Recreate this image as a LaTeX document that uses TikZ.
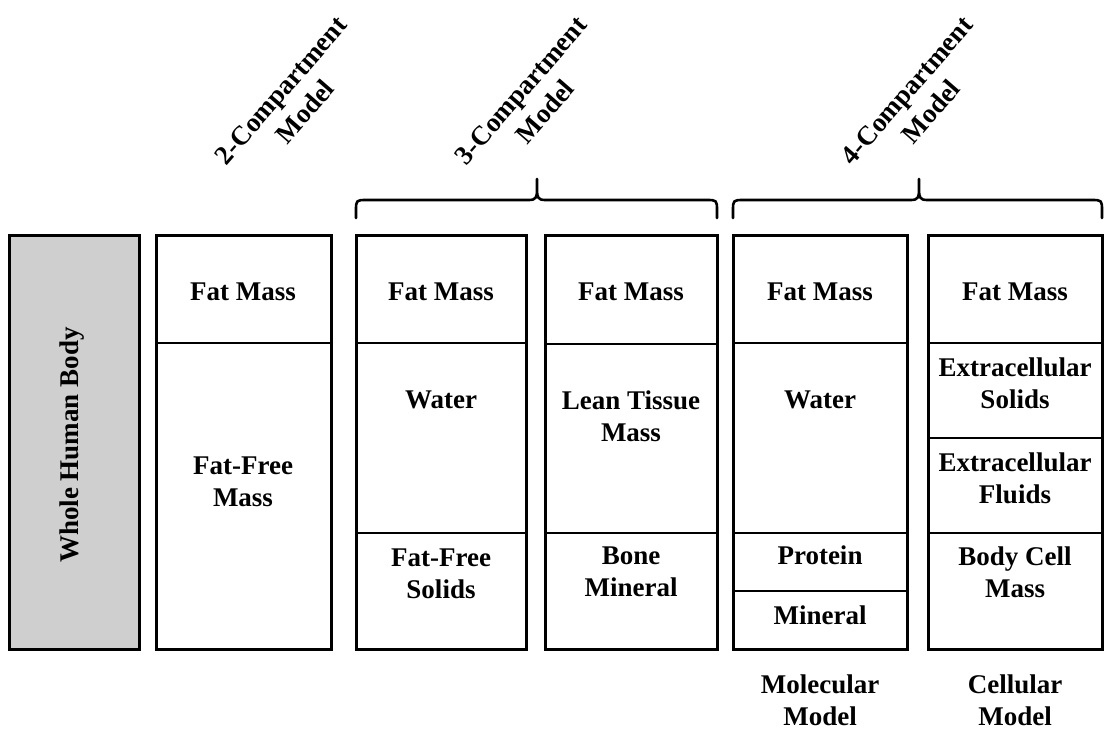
\documentclass[tikz,border=0pt]{standalone}
\usepackage{fontspec}
\setmainfont{Liberation Serif}
\definecolor{bodygray}{RGB}{207,207,207}

\begin{document}
\begin{tikzpicture}[x=1pt, y=-1pt,
        box/.style = {draw, line width=3pt},
        divider/.style = {line width=2.6pt},
        bracket/.style = {line width=2.6pt, line join=round, line cap=round},
        txt/.style = {font=\fontsize{27}{32}\selectfont\bfseries, align=center, inner sep=0pt},
        modellabel/.style = {txt, rotate=49}]
    \useasboundingbox (0,0) rectangle (1105,729);

    % whole body
    \draw[box, fill=bodygray] (9,235) rectangle (139,649);
    \node[txt, rotate=90] (whole) at (72,445) {Whole Human Body};

    % compartment columns
    \foreach \l/\r in {156/331, 356/526, 545/717, 733/907, 928/1102}
        \draw[box] (\l,235) rectangle (\r,649);
    \foreach \l/\r/\y in {156/331/343, 356/526/343, 356/526/533, 545/717/344, 545/717/533,
                          733/907/343, 733/907/533, 733/907/591,
                          928/1102/343, 928/1102/438, 928/1102/533}
        \draw[divider] (\l,\y) -- (\r,\y);

    % braces
    \foreach \l/\m/\r in {356/537/717, 733/919/1102}
        \draw[bracket] (\l,218) -- (\l,211) .. controls (\l,200) .. (\l+11,200)
            -- (\m-8,200) .. controls (\m-1,200) and (\m,197) .. (\m,190) -- (\m,179)
            -- (\m,190) .. controls (\m,197) and (\m+1,200) .. (\m+8,200)
            -- (\r-11,200) .. controls (\r,200) .. (\r,211) -- (\r,218);

    \node[modellabel] (two) at (293,101) {2-Compartment\\Model};
    \node[modellabel] (three) at (533,101) {3-Compartment\\Model};
    \node[modellabel] (four) at (919,101) {4-Compartment\\Model};

    \node[txt] (fm2) at (243,292) {Fat Mass};
    \node[txt] (ffm) at (243,482) {Fat-Free\\Mass};

    \node[txt] (fm3a) at (441,292) {Fat Mass};
    \node[txt] (water3) at (441,400) {Water};
    \node[txt] (ffs) at (441,574) {Fat-Free\\Solids};

    \node[txt] (fm3b) at (631,292) {Fat Mass};
    \node[txt] (ltm) at (631,416) {Lean Tissue\\Mass};
    \node[txt] (bone) at (631,572) {Bone\\Mineral};

    \node[txt] (fm4a) at (820,292) {Fat Mass};
    \node[txt] (water4) at (820,400) {Water};
    \node[txt] (protein) at (820,555) {Protein};
    \node[txt] (mineral) at (820,615) {Mineral};

    \node[txt] (fm4b) at (1015,292) {Fat Mass};
    \node[txt] (ecs) at (1015,383) {Extracellular\\Solids};
    \node[txt] (ecf) at (1015,478) {Extracellular\\Fluids};
    \node[txt] (bcm) at (1015,572) {Body Cell\\Mass};

    \node[txt] (molecular) at (820,700) {Molecular\\Model};
    \node[txt] (cellular) at (1015,700) {Cellular\\Model};
\end{tikzpicture}
\end{document}
